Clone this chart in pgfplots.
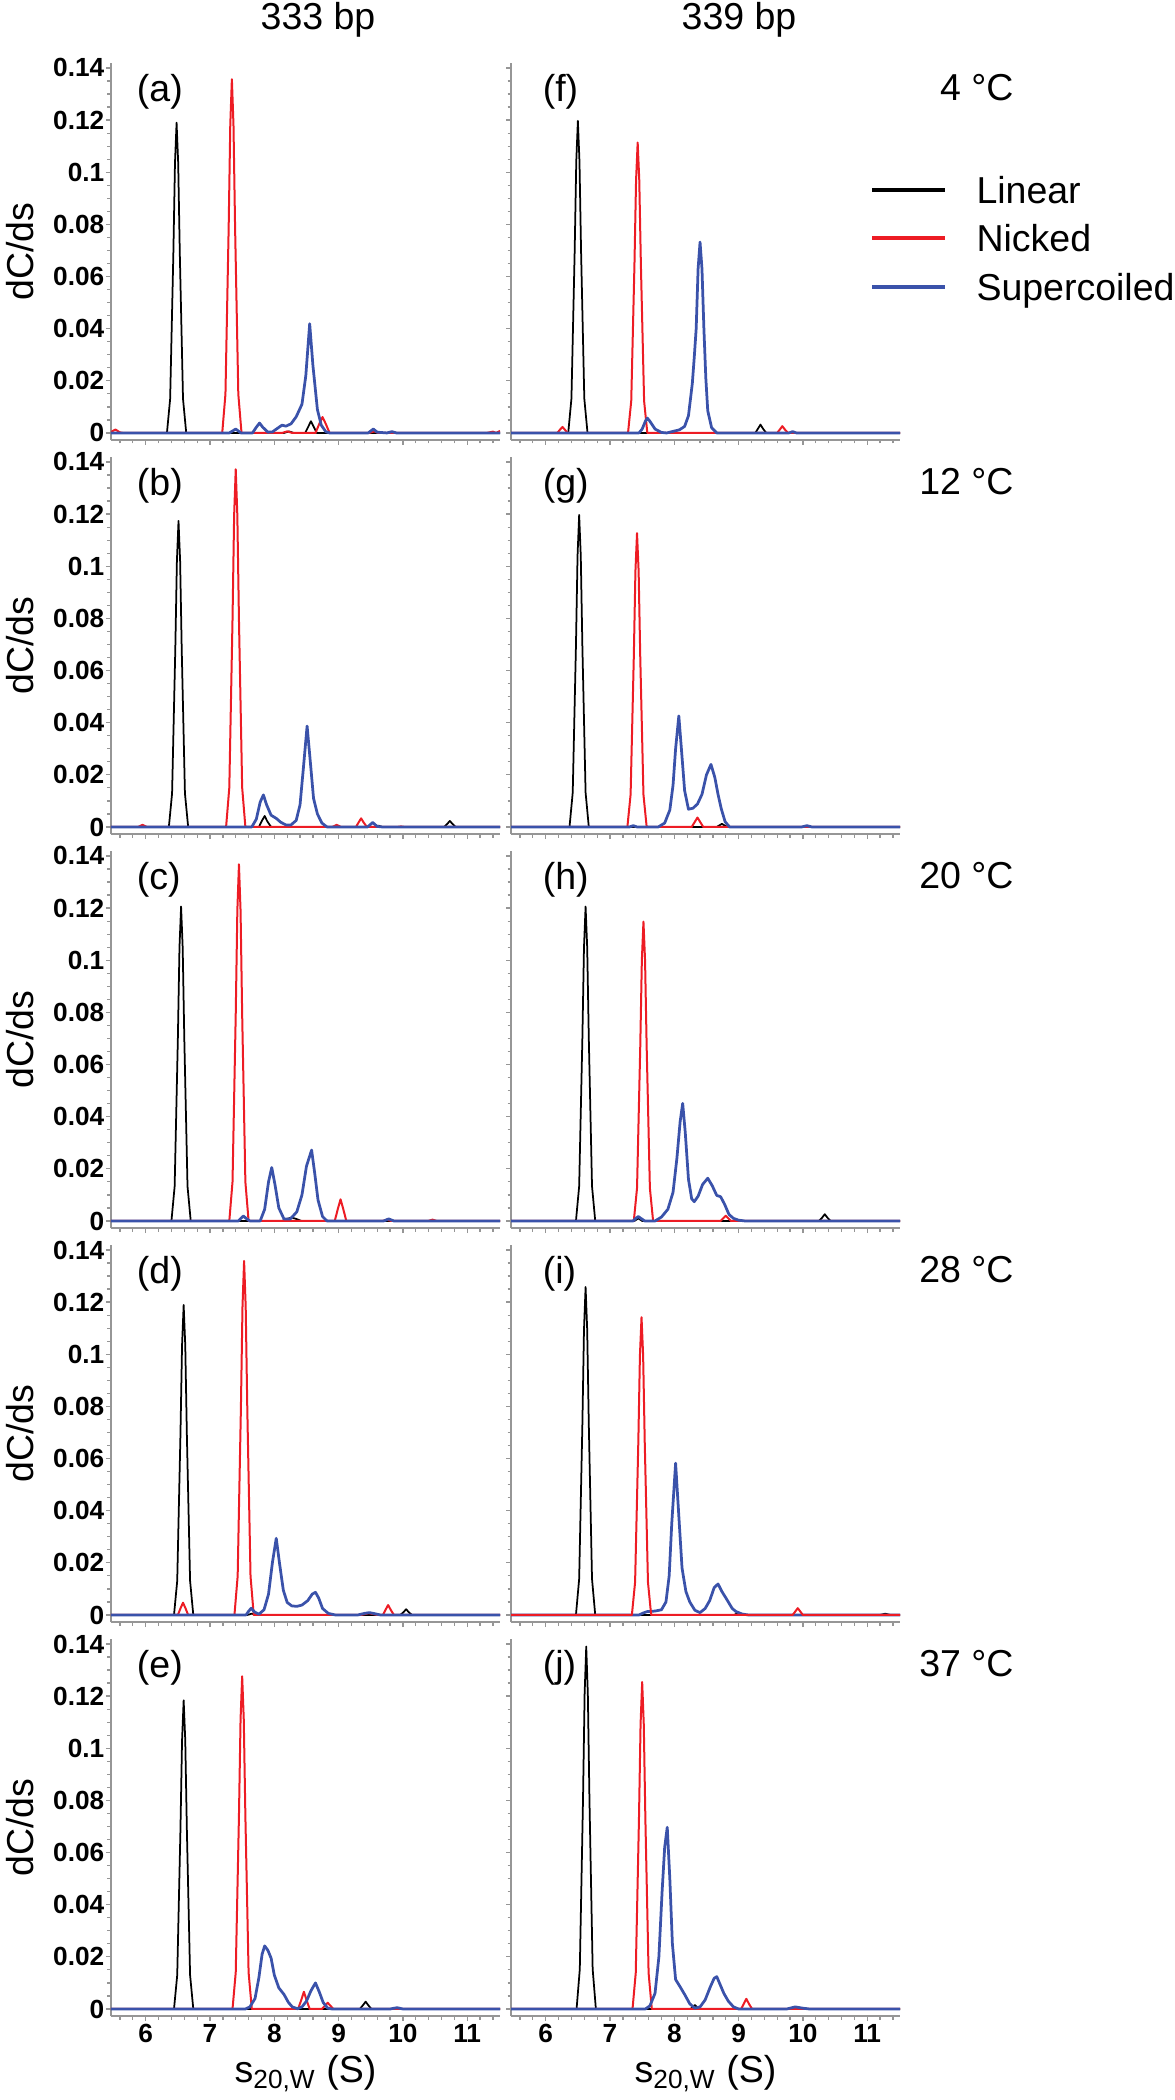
\documentclass[border=0pt]{standalone}
\usepackage{fontspec}
\setmainfont{Liberation Sans}
\usepackage{pgfplots}
\pgfplotsset{compat=1.18}

\definecolor{cred}{RGB}{237,28,36}
\definecolor{cblue}{RGB}{58,82,170}
\definecolor{axgray}{RGB}{150,150,150}

\newcommand\bigfont{\fontsize{15}{18}\selectfont}

\pgfplotsset{
  panel/.style={
    scale only axis, width=155.6pt, height=150.8pt,
    anchor=north west,
    xmin=5.46, xmax=11.51, ymin=-0.0027, ymax=0.1419,
    axis x line=bottom, axis y line=left,
    axis line style={-, draw=axgray, line width=0.9pt},
    xtick={6,7,8,9,10,11},
    minor xtick={5.6,5.8,...,11.4},
    ytick={0,0.02,0.04,0.06,0.08,0.1,0.12,0.14},
    minor ytick={0.005,0.01,...,0.14},
    tick align=outside,
    major tick length=2pt, minor tick length=1.4pt,
    tick style={axgray, line width=0.5pt},
    xticklabels={}, yticklabels={},
    tick label style={font=\fontsize{10.5}{12}\selectfont\bfseries},
    yticklabel style={inner sep=0.5pt},
    xticklabel style={inner sep=1pt},
    every axis plot/.append style={line join=round},
  },
  leftcol/.style={
    yticklabels={0,0.02,0.04,0.06,0.08,0.1,0.12,0.14},
    ylabel={dC/ds},
    ylabel style={at={([xshift=-36.4pt]rel axis cs:0,0.5)}, anchor=center, font=\bigfont},
  },
  bottomrow/.style={
    xticklabels={6,7,8,9,10,11},
    xlabel={s\textsubscript{20,W} (S)},
    xlabel style={at={([yshift=-23pt]rel axis cs:0.5,0)}, anchor=center, font=\bigfont},
  },
  lin/.style={black, line width=0.7pt},
  nic/.style={cred, line width=0.8pt},
  sup/.style={cblue, line width=1.1pt},
}

\begin{document}
\begin{tikzpicture}
\useasboundingbox (0,0) rectangle (470pt,-840pt);

% ---------- 333 bp ----------
% (a) 4 C
\begin{axis}[panel, leftcol, at={(44.4pt,-25.2pt)}]
\addplot[lin] coordinates {(5.46,0)(6.33,0)(6.38,0.0131)(6.43,0.069)(6.455,0.1035)(6.48,0.119)(6.505,0.1035)(6.53,0.069)(6.58,0.0131)(6.63,0)(8.15,0)(8.23,0.0006)(8.3,0)(8.48,0)(8.53,0.0025)(8.57,0.0045)(8.61,0.0025)(8.66,0)(11.51,0)};
\addplot[nic] coordinates {(5.46,0.0004)(5.53,0.0013)(5.6,0.0002)(5.66,0)(7.19,0)(7.24,0.0149)(7.29,0.0787)(7.315,0.1181)(7.34,0.1357)(7.365,0.1181)(7.39,0.0787)(7.44,0.0149)(7.49,0)(8.12,0)(8.2,0.0006)(8.28,0)(8.64,0)(8.7,0.0035)(8.75,0.0061)(8.8,0.0035)(8.86,0)(9.48,0)(9.55,0.0006)(9.62,0)(11.3,0)(11.4,0.0005)(11.45,0)(11.51,0.0008)};
\addplot[sup] coordinates {(5.46,0)(7.3,0)(7.4,0.0015)(7.48,0)(7.66,0)(7.72,0.0022)(7.77,0.0038)(7.82,0.0022)(7.9,0.0003)(7.97,0.0004)(8.05,0.0018)(8.12,0.003)(8.18,0.0026)(8.26,0.0035)(8.34,0.0062)(8.43,0.011)(8.49,0.022)(8.55,0.0419)(8.6,0.026)(8.67,0.009)(8.73,0.003)(8.8,0.0005)(8.86,0)(9.46,0)(9.54,0.0015)(9.6,0.0003)(9.75,0)(9.83,0.0005)(9.9,0)(11.51,0)};
\node[anchor=west, font=\bigfont] at (rel axis cs:0.044,0.923) {(a)};
\end{axis}

% (b) 12 C
\begin{axis}[panel, leftcol, at={(44.4pt,-182.8pt)}]
\addplot[lin] coordinates {(5.46,0)(6.36,0)(6.41,0.0129)(6.46,0.0681)(6.485,0.1021)(6.51,0.1174)(6.535,0.1021)(6.56,0.0681)(6.61,0.0129)(6.66,0)(7.76,0)(7.81,0.0025)(7.85,0.0042)(7.89,0.0022)(7.95,0)(9.55,0)(9.62,0.0005)(9.68,0)(10.64,0)(10.69,0.0012)(10.73,0.0023)(10.77,0.0012)(10.82,0)(11.51,0)};
\addplot[nic] coordinates {(5.46,0)(5.88,0)(5.95,0.0008)(6.02,0)(7.25,0)(7.3,0.0151)(7.35,0.0796)(7.375,0.1194)(7.4,0.1372)(7.425,0.1194)(7.45,0.0796)(7.5,0.0151)(7.55,0)(8.9,0)(8.97,0.0008)(9.04,0)(9.27,0)(9.31,0.0017)(9.35,0.0033)(9.39,0.0017)(9.44,0)(9.9,0)(9.97,0.0002)(10.04,0)(11.51,0)};
\addplot[sup] coordinates {(5.46,0)(7.65,0)(7.72,0.003)(7.78,0.0095)(7.83,0.0123)(7.88,0.0085)(7.95,0.0045)(8.03,0.0033)(8.1,0.0018)(8.18,0.0008)(8.26,0.0008)(8.34,0.0025)(8.4,0.0085)(8.45,0.022)(8.51,0.0387)(8.56,0.025)(8.61,0.011)(8.67,0.005)(8.74,0.0015)(8.82,0)(9.45,0)(9.53,0.0017)(9.6,0.0002)(9.68,0)(11.51,0)};
\node[anchor=west, font=\bigfont] at (rel axis cs:0.044,0.923) {(b)};
\end{axis}

% (c) 20 C
\begin{axis}[panel, leftcol, at={(44.4pt,-340.4pt)}]
\addplot[lin] coordinates {(5.46,0)(6.4,0)(6.45,0.0133)(6.5,0.07)(6.525,0.1049)(6.55,0.1206)(6.575,0.1049)(6.6,0.07)(6.65,0.0133)(6.7,0)(8.12,0)(8.2,0.0008)(8.27,0.0013)(8.34,0.0008)(8.42,0)(11.51,0)};
\addplot[nic] coordinates {(5.46,0)(7.3,0)(7.35,0.015)(7.4,0.0793)(7.425,0.119)(7.45,0.1368)(7.475,0.119)(7.5,0.0793)(7.55,0.015)(7.6,0)(8.94,0)(8.99,0.0048)(9.03,0.0083)(9.07,0.0048)(9.12,0)(9.68,0)(9.75,0.0005)(9.82,0)(10.39,0)(10.46,0.0005)(10.53,0)(11.51,0)};
\addplot[sup] coordinates {(5.46,0)(7.44,0)(7.48,0.001)(7.52,0.0019)(7.56,0.001)(7.62,0)(7.78,0)(7.85,0.0045)(7.91,0.015)(7.96,0.0205)(8.01,0.014)(8.07,0.005)(8.15,0.0008)(8.25,0.0008)(8.35,0.0035)(8.43,0.01)(8.5,0.021)(8.58,0.0272)(8.63,0.018)(8.68,0.008)(8.75,0.0017)(8.82,0)(9.7,0)(9.78,0.0008)(9.86,0)(11.51,0)};
\node[anchor=west, font=\bigfont] at (rel axis cs:0.044,0.923) {(c)};
\end{axis}

% (d) 28 C
\begin{axis}[panel, leftcol, at={(44.4pt,-498pt)}]
\addplot[lin] coordinates {(5.46,0)(6.44,0)(6.49,0.0131)(6.54,0.069)(6.565,0.1034)(6.59,0.1189)(6.615,0.1034)(6.64,0.069)(6.69,0.0131)(6.74,0)(7.58,0)(7.65,0.0005)(7.72,0)(9.96,0)(10.01,0.0011)(10.05,0.0022)(10.09,0.0011)(10.14,0)(11.51,0)};
\addplot[nic] coordinates {(5.46,0)(6.5,0)(6.54,0.0025)(6.58,0.0047)(6.62,0.0025)(6.66,0)(7.38,0)(7.43,0.0149)(7.48,0.0788)(7.505,0.1181)(7.53,0.1358)(7.555,0.1181)(7.58,0.0788)(7.63,0.0149)(7.68,0)(9.35,0)(9.47,0.0007)(9.6,0)(9.69,0)(9.73,0.002)(9.77,0.0038)(9.81,0.002)(9.86,0)(11.51,0)};
\addplot[sup] coordinates {(5.46,0)(7.56,0)(7.6,0.0014)(7.64,0.0026)(7.69,0.0012)(7.76,0.0003)(7.84,0.002)(7.91,0.008)(7.97,0.02)(8.03,0.0294)(8.08,0.02)(8.14,0.0095)(8.2,0.0048)(8.27,0.0035)(8.35,0.0033)(8.43,0.0038)(8.52,0.0055)(8.59,0.008)(8.64,0.0087)(8.69,0.0065)(8.75,0.0025)(8.84,0.0006)(8.95,0)(9.3,0)(9.4,0.0006)(9.48,0.0009)(9.56,0.0005)(9.65,0)(11.51,0)};
\node[anchor=west, font=\bigfont] at (rel axis cs:0.044,0.923) {(d)};
\end{axis}

% (e) 37 C
\begin{axis}[panel, leftcol, bottomrow, at={(44.4pt,-655.6pt)}]
\addplot[lin] coordinates {(5.46,0)(6.44,0)(6.49,0.013)(6.54,0.0687)(6.565,0.103)(6.59,0.1184)(6.615,0.103)(6.64,0.0687)(6.69,0.013)(6.74,0)(9.33,0)(9.38,0.0015)(9.42,0.0028)(9.46,0.0015)(9.51,0)(11.51,0)};
\addplot[nic] coordinates {(5.46,0)(7.35,0)(7.4,0.014)(7.45,0.074)(7.475,0.111)(7.5,0.1276)(7.525,0.111)(7.55,0.074)(7.6,0.014)(7.65,0)(8.37,0)(8.42,0.0035)(8.46,0.0066)(8.5,0.0035)(8.55,0)(8.74,0)(8.79,0.0013)(8.83,0.0024)(8.87,0.0013)(8.92,0)(11.51,0)};
\addplot[sup] coordinates {(5.46,0)(7.55,0)(7.62,0.0008)(7.7,0.004)(7.76,0.012)(7.81,0.021)(7.85,0.0242)(7.9,0.0225)(7.95,0.0195)(8.0,0.013)(8.07,0.0081)(8.15,0.0056)(8.22,0.0025)(8.28,0.0008)(8.36,0.0001)(8.43,0.0008)(8.5,0.003)(8.57,0.007)(8.64,0.01)(8.7,0.0065)(8.76,0.0025)(8.83,0.0003)(8.9,0)(9.8,0)(9.91,0.0005)(10.0,0)(11.51,0)};
\node[anchor=west, font=\bigfont] at (rel axis cs:0.044,0.923) {(e)};
\end{axis}

% ---------- 339 bp ----------
% (f) 4 C
\begin{axis}[panel, at={(204.4pt,-25.2pt)}]
\addplot[lin] coordinates {(5.46,0)(6.35,0)(6.4,0.0132)(6.45,0.0694)(6.475,0.1041)(6.5,0.1197)(6.525,0.1041)(6.55,0.0694)(6.6,0.0132)(6.65,0)(9.26,0)(9.3,0.0016)(9.34,0.0032)(9.38,0.0016)(9.43,0)(11.51,0)};
\addplot[nic] coordinates {(5.46,0)(6.18,0)(6.22,0.0012)(6.26,0.0023)(6.3,0.0012)(6.34,0)(7.28,0)(7.33,0.0123)(7.38,0.0646)(7.405,0.0969)(7.43,0.1114)(7.455,0.0969)(7.48,0.0646)(7.53,0.0123)(7.58,0)(9.6,0)(9.64,0.0013)(9.68,0.0026)(9.72,0.0013)(9.77,0)(11.51,0)};
\addplot[sup] coordinates {(5.46,0)(7.45,0)(7.5,0.0015)(7.55,0.0045)(7.58,0.0057)(7.62,0.0045)(7.7,0.0015)(7.8,0.0002)(7.88,0)(7.98,0.0006)(8.08,0.0012)(8.16,0.0025)(8.22,0.0066)(8.28,0.019)(8.31,0.029)(8.34,0.04)(8.37,0.063)(8.4,0.0732)(8.43,0.063)(8.46,0.04)(8.49,0.021)(8.52,0.0085)(8.58,0.002)(8.66,0)(9.78,0)(9.84,0.0005)(9.9,0)(11.51,0)};
\node[anchor=west, font=\bigfont] at (rel axis cs:0.059,0.923) {(f)};
\end{axis}

% (g) 12 C
\begin{axis}[panel, at={(204.4pt,-182.8pt)}]
\addplot[lin] coordinates {(5.46,0)(6.37,0)(6.42,0.0132)(6.47,0.0694)(6.495,0.1041)(6.52,0.1197)(6.545,0.1041)(6.57,0.0694)(6.62,0.0132)(6.67,0)(8.66,0)(8.7,0.0006)(8.74,0.0012)(8.78,0.0006)(8.83,0)(11.51,0)};
\addplot[nic] coordinates {(5.46,0)(7.27,0)(7.32,0.0124)(7.37,0.0654)(7.395,0.098)(7.42,0.1127)(7.445,0.098)(7.47,0.0654)(7.52,0.0124)(7.57,0)(8.27,0)(8.32,0.002)(8.36,0.0036)(8.4,0.002)(8.45,0)(11.51,0)};
\addplot[sup] coordinates {(5.46,0)(7.3,0)(7.36,0.0005)(7.42,0)(7.75,0)(7.85,0.0015)(7.93,0.0065)(7.98,0.016)(8.02,0.03)(8.07,0.0426)(8.11,0.03)(8.16,0.014)(8.22,0.0068)(8.29,0.0072)(8.36,0.0088)(8.43,0.0125)(8.5,0.02)(8.57,0.024)(8.63,0.019)(8.68,0.0125)(8.73,0.007)(8.79,0.002)(8.86,0)(9.98,0)(10.06,0.0005)(10.14,0)(11.51,0)};
\node[anchor=west, font=\bigfont] at (rel axis cs:0.059,0.923) {(g)};
\end{axis}

% (h) 20 C
\begin{axis}[panel, at={(204.4pt,-340.4pt)}]
\addplot[lin] coordinates {(5.46,0)(6.47,0)(6.52,0.0133)(6.57,0.07)(6.595,0.1049)(6.62,0.1206)(6.645,0.1049)(6.67,0.07)(6.72,0.0133)(6.77,0)(7.38,0)(7.44,0.001)(7.5,0)(10.25,0)(10.3,0.0013)(10.34,0.0026)(10.38,0.0013)(10.43,0)(11.51,0)};
\addplot[nic] coordinates {(5.46,0)(7.37,0)(7.42,0.0126)(7.47,0.0666)(7.495,0.0999)(7.52,0.1148)(7.545,0.0999)(7.57,0.0666)(7.62,0.0126)(7.67,0)(8.72,0)(8.76,0.001)(8.8,0.002)(8.84,0.001)(8.88,0)(11.51,0)};
\addplot[sup] coordinates {(5.46,0)(7.36,0)(7.4,0.001)(7.44,0.0017)(7.48,0.001)(7.54,0)(7.7,0)(7.8,0.0015)(7.9,0.0045)(7.98,0.011)(8.04,0.024)(8.09,0.038)(8.13,0.0451)(8.17,0.034)(8.22,0.016)(8.27,0.0085)(8.31,0.0074)(8.37,0.0095)(8.44,0.014)(8.52,0.0164)(8.59,0.0135)(8.66,0.0098)(8.72,0.0093)(8.78,0.0065)(8.85,0.0025)(8.92,0.001)(9.0,0.0003)(9.1,0)(11.51,0)};
\node[anchor=west, font=\bigfont] at (rel axis cs:0.059,0.923) {(h)};
\end{axis}

% (i) 28 C
\begin{axis}[panel, at={(204.4pt,-498pt)}]
\addplot[lin] coordinates {(5.46,0)(6.47,0)(6.52,0.0138)(6.57,0.073)(6.595,0.1094)(6.62,0.1258)(6.645,0.1094)(6.67,0.073)(6.72,0.0138)(6.77,0)(8.93,0)(9.0,0.0009)(9.07,0)(11.2,0)(11.28,0.0005)(11.36,0)(11.51,0)};
\addplot[sup] coordinates {(5.46,0)(7.45,0)(7.52,0.0008)(7.58,0.0013)(7.7,0.0015)(7.8,0.002)(7.87,0.005)(7.92,0.015)(7.96,0.035)(8.02,0.0582)(8.07,0.038)(8.12,0.018)(8.18,0.009)(8.24,0.005)(8.32,0.0018)(8.4,0.0009)(8.48,0.0025)(8.55,0.0055)(8.62,0.0105)(8.68,0.0119)(8.74,0.009)(8.82,0.0058)(8.9,0.0025)(8.96,0.0013)(9.05,0.0004)(9.15,0)(11.51,0)};
\addplot[nic] coordinates {(5.46,0)(7.34,0)(7.39,0.0126)(7.44,0.0662)(7.465,0.0994)(7.49,0.1142)(7.515,0.0994)(7.54,0.0662)(7.59,0.0126)(7.64,0)(9.84,0)(9.88,0.0013)(9.92,0.0026)(9.96,0.0013)(10.0,0)(11.51,0)};
\node[anchor=west, font=\bigfont] at (rel axis cs:0.059,0.923) {(i)};
\end{axis}

% (j) 37 C
\begin{axis}[panel, bottomrow, at={(204.4pt,-655.6pt)}]
\addplot[lin] coordinates {(5.46,0)(6.48,0)(6.53,0.0153)(6.58,0.0806)(6.605,0.1209)(6.63,0.139)(6.655,0.1209)(6.68,0.0806)(6.73,0.0153)(6.78,0)(8.25,0)(8.29,0.0008)(8.32,0.0015)(8.35,0.0008)(8.4,0)(11.51,0)};
\addplot[nic] coordinates {(5.46,0)(7.35,0)(7.4,0.0138)(7.45,0.0727)(7.475,0.1091)(7.5,0.1254)(7.525,0.1091)(7.55,0.0727)(7.6,0.0138)(7.65,0)(9.04,0)(9.08,0.002)(9.12,0.0039)(9.16,0.002)(9.21,0)(11.51,0)};
\addplot[sup] coordinates {(5.46,0)(7.55,0)(7.62,0.0012)(7.7,0.006)(7.76,0.02)(7.81,0.045)(7.85,0.062)(7.89,0.0697)(7.93,0.05)(7.97,0.025)(8.02,0.0113)(8.09,0.0085)(8.16,0.0056)(8.24,0.002)(8.32,0.0003)(8.4,0.0008)(8.48,0.0035)(8.56,0.0085)(8.62,0.0118)(8.66,0.0124)(8.71,0.0095)(8.77,0.006)(8.84,0.003)(8.92,0.0008)(9.0,0)(9.75,0)(9.88,0.0008)(10.0,0.0003)(10.1,0)(11.51,0)};
\node[anchor=west, font=\bigfont] at (rel axis cs:0.059,0.923) {(j)};
\end{axis}

% column titles
\node[anchor=base, font=\bigfont] at (127.2pt,-12pt) {333 bp};
\node[anchor=base, font=\bigfont] at (295.6pt,-12pt) {339 bp};

% temperatures
\foreach \t [count=\k from 0] in {4,12,20,28,37}
  \node[anchor=east, font=\bigfont, inner sep=0pt] at (405.6pt,-35.2pt-157.6pt*\k) {\t\ °C};

% legend
\draw[black, line width=1.6pt] (348.8pt,-76pt) -- (378pt,-76pt);
\draw[cred, line width=1.6pt] (348.8pt,-95.4pt) -- (378pt,-95.4pt);
\draw[cblue, line width=1.6pt] (348.8pt,-114.8pt) -- (378pt,-114.8pt);
\node[anchor=base west, font=\bigfont, inner sep=0pt] at (390.4pt,-81.3pt) {Linear};
\node[anchor=base west, font=\bigfont, inner sep=0pt] at (390.4pt,-100.7pt) {Nicked};
\node[anchor=base west, font=\bigfont, inner sep=0pt] at (390.4pt,-120.1pt) {Supercoiled};
\end{tikzpicture}
\end{document}
